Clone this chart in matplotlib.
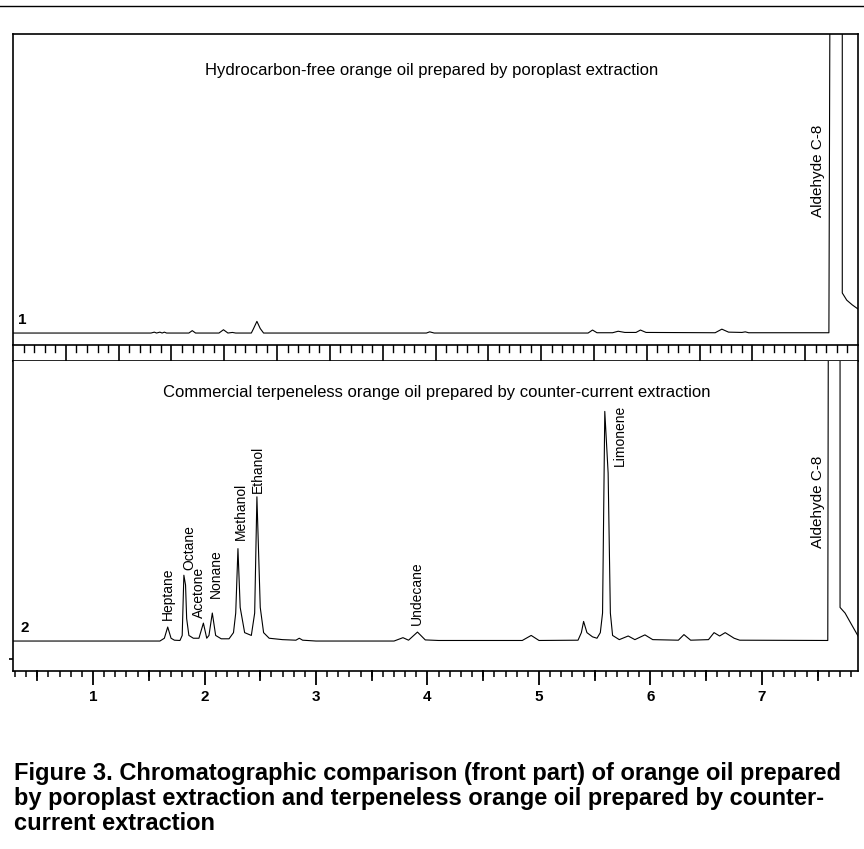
import matplotlib
matplotlib.use("Agg")
import matplotlib.pyplot as plt
from matplotlib.ticker import MultipleLocator
from matplotlib.lines import Line2D

plt.rcParams['font.family'] = ['Liberation Sans', 'DejaVu Sans']

# chromatogram 1: hydrocarbon-free orange oil (time in min, signal in % of full scale)
time_1 = [0.28, 1.52, 1.55, 1.57, 1.60, 1.62, 1.64, 1.66, 1.86, 1.89, 1.92,
          2.13, 2.17, 2.21, 2.25, 2.28, 2.42, 2.44, 2.47, 2.50, 2.53,
          3.99, 4.02, 4.06, 5.44, 5.48, 5.52, 5.66, 5.71, 5.77, 5.87, 5.91, 5.96,
          6.58, 6.64, 6.70, 6.82, 6.85, 6.88, 7.60, 7.61, 7.72, 7.72, 7.76, 7.81, 7.87]
signal_1 = [0, 0, 0.3, 0, 0.3, 0, 0.3, 0, 0, 0.8, 0,
            0, 1.1, 0, 0.2, 0, 0, 1.5, 3.9, 1.5, 0,
            0, 0.4, 0, 0, 1.0, 0.1, 0.1, 0.6, 0.2, 0.2, 1.0, 0.2,
            0.1, 1.3, 0.3, 0.2, 0.4, 0.1, 0.1, 120, 120, 13.4, 11, 9.4, 7.8]

# chromatogram 2: commercial terpeneless orange oil
time_2 = [0.28, 1.60, 1.64, 1.67, 1.70, 1.73, 1.78, 1.80, 1.815, 1.83, 1.84, 1.86,
          1.90, 1.95, 1.99, 2.02, 2.04, 2.07, 2.10, 2.15, 2.22, 2.26, 2.28, 2.30,
          2.32, 2.36, 2.42, 2.45, 2.47, 2.50, 2.53, 2.58, 2.70, 2.82, 2.85, 2.88,
          3.00, 3.70, 3.78, 3.83, 3.91, 3.98, 4.10, 4.85, 4.93, 5.00, 5.35, 5.38,
          5.40, 5.43, 5.48, 5.52, 5.55, 5.57, 5.59, 5.62, 5.64, 5.66, 5.72, 5.80,
          5.86, 5.95, 6.02, 6.25, 6.30, 6.36, 6.52, 6.57, 6.62, 6.67, 6.75, 6.80,
          7.59, 7.595, 7.70, 7.70, 7.745, 7.79, 7.87]
signal_2 = [0, 0, 1.0, 5.0, 1.0, 0.3, 0.2, 2, 23.5, 20, 8, 2,
            1, 1, 6.4, 1.0, 2, 10, 2, 0.8, 0.8, 3, 10, 33,
            12, 3, 2, 10, 51.5, 12, 3, 1, 0.5, 0.3, 1, 0.3,
            0, 0, 1.2, 0.3, 3.2, 0.4, 0.2, 0.2, 2, 0.2, 0.3, 3,
            7, 3, 1.5, 1, 3, 10, 82, 60, 10, 2, 0.5, 1.8,
            0.5, 2.2, 0.5, 0.3, 2.3, 0.3, 0.5, 3, 1.8, 3, 1, 0.3,
            0.2, 120, 120, 12, 10, 6.8, 1.2]

# peak labels (time, signal at label foot)
labels_1 = ["Aldehyde C-8"]
label_t_1 = [7.50]
label_s_1 = [38.8]

labels_2 = ["Heptane", "Octane", "Acetone", "Nonane", "Methanol", "Ethanol",
            "Undecane", "Limonene", "Aldehyde C-8"]
label_t_2 = [1.673, 1.861, 1.951, 2.103, 2.327, 2.48, 3.906, 5.726, 7.50]
label_s_2 = [7.5, 25.4, 8.2, 15.4, 36.0, 52.9, 5.7, 62.5, 33.2]

title_1 = "Hydrocarbon-free orange oil prepared by poroplast extraction"
title_2 = "Commercial terpeneless orange oil prepared by counter-current extraction"
caption = ["Figure 3. Chromatographic comparison (front part) of orange oil prepared",
           "by poroplast extraction and terpeneless orange oil prepared by counter-",
           "current extraction"]
time_ticks = [1, 2, 3, 4, 5, 6, 7]

W, H = 864, 849
fig = plt.figure(figsize=(W / 100, H / 100), dpi=100)

def frac_box(x0, y0, x1, y1):
    return [x0 / W, 1 - y1 / H, (x1 - x0) / W, (y1 - y0) / H]

def label_size(lab):
    return 11 if lab.startswith("Aldehyde") else 10

xmin, xmax = 0.2825, 7.861
lw_sp = 1.2

ax1 = fig.add_axes(frac_box(13, 34, 858, 345))
ruler = fig.add_axes(frac_box(13, 345, 858, 361))
ax2 = fig.add_axes(frac_box(13, 361, 858, 671))

# upper chromatogram
ax1.plot(time_1, signal_1, color='black', lw=0.8)
ax1.set_xlim(xmin, xmax)
ax1.set_ylim(-4.0, 100)
ax1.set_xticks([])
ax1.set_yticks([])
ax1.spines['bottom'].set_visible(False)
for s in ['top', 'left', 'right']:
    ax1.spines[s].set_linewidth(lw_sp)
ax1.text(0.496, 0.884, title_1, transform=ax1.transAxes, ha='center', va='center', fontsize=12)
ax1.text(0.006, 0.080, "1", transform=ax1.transAxes, ha='left', va='center',
         fontsize=11, fontweight='bold')
for lab, t, s in zip(labels_1, label_t_1, label_s_1):
    ax1.text(t, s, lab, rotation=90, ha='center', va='bottom', fontsize=label_size(lab))

# ruler strip between the two traces
ruler.set_xlim(0, 16)
ruler.set_ylim(0, 1)
ruler.set_yticks([])
ruler.set_xticks([])
for s in ruler.spines.values():
    s.set_linewidth(lw_sp)
for i in range(1, 16):
    ruler.axvline(i, color='black', lw=1.2)
for i in range(16):
    for k in range(1, 5):
        ruler.plot([i + k * 0.2] * 2, [1, 0.55], color='black', lw=1.0)

# lower chromatogram
ax2.plot(time_2, signal_2, color='black', lw=0.8)
ax2.set_xlim(xmin, xmax)
ax2.set_ylim(-10.7, 100)
ax2.spines['top'].set_visible(False)
for s in ['bottom', 'left', 'right']:
    ax2.spines[s].set_linewidth(lw_sp)
ax2.set_yticks([-6.4])
ax2.set_yticklabels([])
ax2.tick_params(axis='y', length=3, width=1.2)
ax2.set_xticks(time_ticks)
ax2.set_xticklabels([str(t) for t in time_ticks], fontsize=11, fontweight='bold')
ax2.xaxis.set_minor_locator(MultipleLocator(0.1))
ax2.tick_params(axis='x', which='major', length=10, width=1.3, pad=4)
ax2.tick_params(axis='x', which='minor', length=4.5, width=1.1)
for t in [0.5, 1.5, 2.5, 3.5, 4.5, 5.5, 6.5, 7.5]:
    ax2.plot([t, t], [0, -0.028], transform=ax2.get_xaxis_transform(), color='black',
             lw=1.3, clip_on=False)
ax2.text(0.501, 0.897, title_2, transform=ax2.transAxes, ha='center', va='center', fontsize=12)
ax2.text(0.0083, 0.139, "2", transform=ax2.transAxes, ha='left', va='center',
         fontsize=11, fontweight='bold')
for lab, t, s in zip(labels_2, label_t_2, label_s_2):
    ax2.text(t, s, lab, rotation=90, ha='center', va='bottom', fontsize=label_size(lab))

# scan frame line at the top
fig.add_artist(Line2D([0, 1], [1 - 6 / H, 1 - 6 / H], color='black', lw=1.0))

# caption
for line, yb in zip(caption, [780, 805, 830]):
    fig.text(14 / W, 1 - yb / H, line, ha='left', va='baseline', fontsize=17, fontweight='bold')

fig.savefig("out.png", dpi=100)
